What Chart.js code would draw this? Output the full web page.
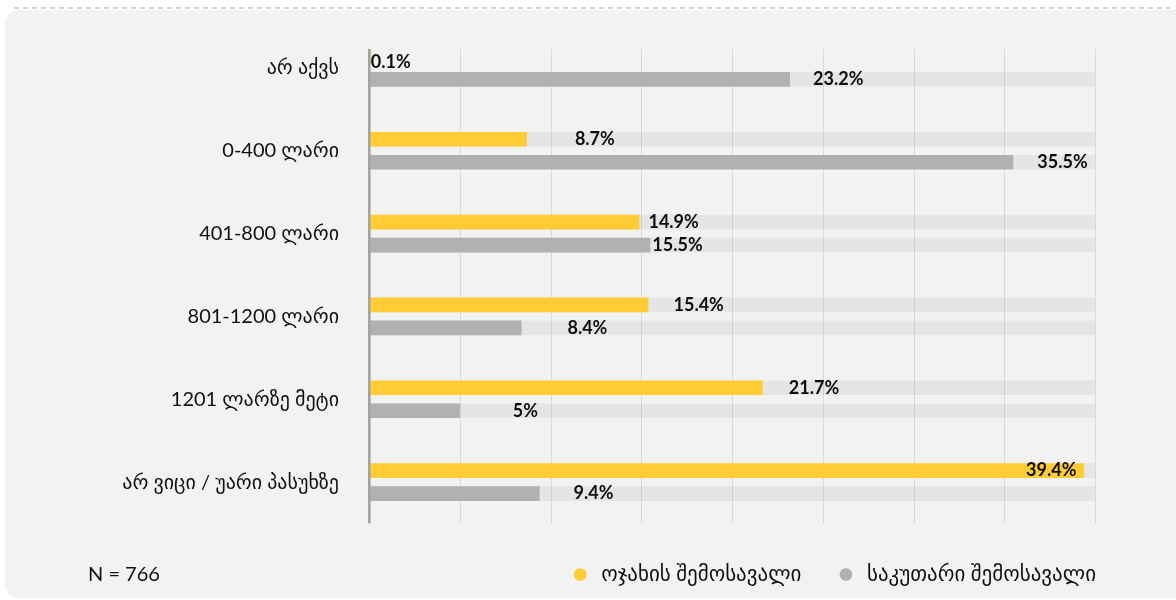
<!DOCTYPE html>
<html>
<head>
<meta charset="utf-8">
<script src="https://cdn.jsdelivr.net/npm/chart.js@4.4.1/dist/chart.umd.min.js"></script>
<style>
  html, body { margin: 0; padding: 0; background: #fff; }
  #wrap { position: relative; width: 1176px; height: 600px; overflow: hidden; }
  #card { position: absolute; left: 5px; top: 10px; width: 1200px; height: 588px; background: #f2f2f1; border-radius: 14px; }
  #dash { position: absolute; left: 14px; top: 7px; width: 1156px; height: 2px;
          background: repeating-linear-gradient(to right, #d2d2d2 0 5px, transparent 5px 9px); }
  canvas { position: absolute; left: 0; top: 0; }
</style>
</head>
<body>
<div id="wrap">
  <div id="card"></div>
  <div id="dash"></div>
  <canvas id="income-chart" width="1176" height="600"></canvas>
</div>
<script>
const categories = ['არ აქვს', '0-400 ლარი', '401-800 ლარი', '801-1200 ლარი', '1201 ლარზე მეტი', 'არ ვიცი / უარი პასუხზე'];
const seriesNames = ['ოჯახის შემოსავალი', 'საკუთარი შემოსავალი'];
const householdIncome = [0.1, 8.7, 14.9, 15.4, 21.7, 39.4];
const ownIncome = [23.2, 35.5, 15.5, 8.4, 5, 9.4];
// light "track" behind each bar, up to the axis maximum (none for the first household row)
const householdTrack = [null, 40, 40, 40, 40, 40];
const ownTrack = [40, 40, 40, 40, 40, 40];
const axisMax = 40;
const axisStep = 5;
const sampleNote = 'N = 766';

// where each value label sits, in px from the bar end (labels were hand placed)
const householdLabelDx = [0, 48, 9, 25, 26, -58];
const householdLabelDy = [6, 0, 0, 0, 0, 0];
const ownLabelDx = [23, 24, 2, 46, 53, 34];

const FONT = "Lato, 'DejaVu Sans', sans-serif";
const YELLOW = '#ffcd33';
const GREY = '#b1b1af';
const TRACK = 'rgba(0,0,0,0.05)';

const decorations = {
  id: 'decorations',
  beforeDatasetsDraw(chart) {
    const { ctx, chartArea, scales: { x } } = chart;
    const first = chart.getDatasetMeta(0).data[0];
    const top = first.y - first.height / 2;
    ctx.save();
    ctx.strokeStyle = '#d9d9d8';
    ctx.lineWidth = 1;
    x.ticks.forEach((t) => {
      if (t.value === 0) return;
      const px = Math.round(x.getPixelForValue(t.value)) + 0.5;
      ctx.beginPath();
      ctx.moveTo(px, top);
      ctx.lineTo(px, chartArea.bottom);
      ctx.stroke();
    });
    ctx.restore();
  },
  afterDatasetsDraw(chart) {
    const { ctx, chartArea, scales: { x } } = chart;
    const first = chart.getDatasetMeta(0).data[0];
    const top = first.y - first.height / 2;
    ctx.save();
    // vertical category axis line
    ctx.strokeStyle = '#a3a3a3';
    ctx.lineWidth = 2.6;
    const x0 = x.getPixelForValue(0) + 0.3;
    ctx.beginPath();
    ctx.moveTo(x0, top);
    ctx.lineTo(x0, chartArea.bottom);
    ctx.stroke();

    ctx.fillStyle = '#0d0d0d';
    ctx.font = 'bold 18px ' + FONT;
    ctx.textAlign = 'left';
    ctx.textBaseline = 'middle';
    chart.getDatasetMeta(0).data.forEach((bar, i) => {
      ctx.fillText(householdIncome[i] + '%', bar.x + householdLabelDx[i], bar.y + householdLabelDy[i]);
    });
    chart.getDatasetMeta(1).data.forEach((bar, i) => {
      ctx.fillText(ownIncome[i] + '%', bar.x + ownLabelDx[i], bar.y);
    });
    ctx.restore();
  },
  afterDraw(chart) {
    const hb = chart.legend.legendHitBoxes[0];
    if (!hb) return;
    const { ctx } = chart;
    ctx.save();
    ctx.fillStyle = '#111';
    ctx.font = '20px ' + FONT;
    ctx.textAlign = 'left';
    ctx.textBaseline = 'middle';
    ctx.fillText(sampleNote, 88, hb.top + hb.height / 2);
    ctx.restore();
  }
};

const ctx = document.getElementById('income-chart').getContext('2d');
new Chart(ctx, {
  type: 'bar',
  data: {
    labels: categories,
    datasets: [
      { label: seriesNames[0], data: householdIncome, backgroundColor: YELLOW, stack: 'household' },
      { label: seriesNames[1], data: ownIncome, backgroundColor: GREY, stack: 'own' },
      { label: 'track', data: householdTrack, backgroundColor: TRACK, stack: 'household' },
      { label: 'track', data: ownTrack, backgroundColor: TRACK, stack: 'own' }
    ]
  },
  options: {
    indexAxis: 'y',
    responsive: false,
    animation: false,
    layout: { padding: { top: 26.5, right: 46, bottom: 5, left: 0 } },
    datasets: {
      bar: { categoryPercentage: 0.554, barPercentage: 0.64, borderWidth: 0 }
    },
    scales: {
      x: {
        min: 0, max: axisMax, stacked: false,
        ticks: { display: false, stepSize: axisStep },
        grid: { display: false, drawTicks: false },
        border: { display: false },
        afterFit: (s) => { s.height = 6.5; }
      },
      y: {
        ticks: { padding: 30, color: '#111', font: { family: FONT, size: 20 } },
        grid: { display: false, drawTicks: false },
        border: { display: false },
        afterFit: (s) => {
          s.width = 369;
          // labels sit in the middle of each band, no extra room needed above/below
          s.paddingTop = 0;
          s.paddingBottom = 0;
        }
      },
      pad: {
        type: 'linear', position: 'right',
        ticks: { display: false },
        grid: { display: false, drawTicks: false },
        border: { display: false },
        afterFit: (s) => { s.width = 35; s.paddingTop = 0; s.paddingBottom = 0; }
      }
    },
    plugins: {
      tooltip: { enabled: false },
      legend: {
        position: 'bottom',
        align: 'end',
        labels: {
          usePointStyle: true,
          pointStyle: 'circle',
          boxWidth: 21,
          boxHeight: 9,
          padding: 34,
          color: '#111',
          font: { family: FONT, size: 21 },
          filter: (item) => item.datasetIndex < 2
        }
      }
    }
  },
  plugins: [decorations]
});
</script>
</body>
</html>
